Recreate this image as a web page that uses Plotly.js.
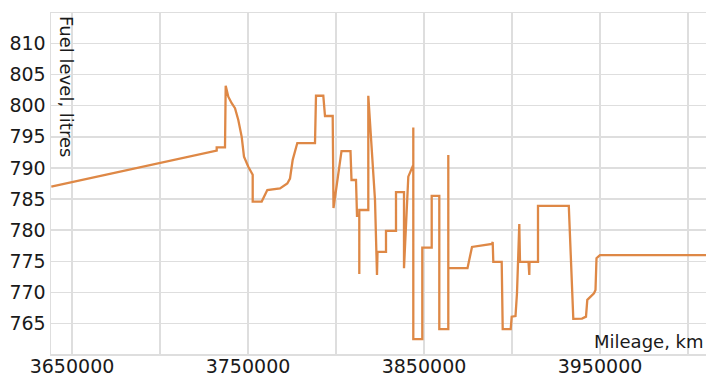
<!DOCTYPE html>
<html>
<head>
<meta charset="utf-8">
<script src="https://cdn.plot.ly/plotly-3.0.1.min.js"></script>
<style>html,body{margin:0;padding:0;background:#fff;}#chart{width:706px;height:376px;}</style>
</head>
<body>
<div id="chart"></div>
<script>
// Mileage (km) of each traced vertex
const mileage = [
  3638240, 3700000, 3732216, 3732216, 3736932, 3737330,
  3738807, 3740739, 3742614, 3744489, 3746421, 3747727, 3750170, 3752670, 3752670,
  3757784, 3760966, 3768182, 3772330, 3773864, 3775398, 3778011, 3788068, 3788636,
  3792784, 3793750, 3798125, 3798580, 3803125, 3808239, 3808807, 3811364, 3811932,
  3813239, 3813239, 3813239, 3818352, 3818352, 3822159, 3823295, 3823580, 3828409,
  3828409, 3834091, 3834091, 3838636, 3838636, 3841080, 3843920, 3843920, 3843920,
  3849034, 3849034, 3854375, 3854375, 3858693, 3858693, 3863807, 3863807, 3863807,
  3874716, 3877273, 3888636, 3889034, 3889375, 3894148, 3894716, 3899261, 3899830,
  3901989, 3902841, 3904148, 3904545, 3909375, 3909830, 3909943, 3914773, 3914773,
  3932273, 3934830, 3939773, 3942045, 3942784, 3944886, 3946591, 3947443, 3948011,
  3950000, 4015000
];
// Fuel level (litres) at each vertex
const fuelLevel = [
  787.0, 790.8, 792.8, 793.3, 793.3, 803.2,
  801.45, 800.4, 799.6, 797.7, 795.0, 791.8, 790.2, 788.9, 784.6,
  784.6, 786.45, 786.7, 787.5, 788.3, 791.3, 794.0, 794.0, 801.6,
  801.6, 798.35, 798.35, 783.56, 792.7, 792.7, 788.06, 788.06, 782.3,
  782.3, 772.95, 783.24, 783.24, 801.6, 784.85, 772.8, 776.5, 776.5,
  779.9, 779.9, 786.1, 786.1, 773.9, 788.6, 790.5, 796.5, 762.5,
  762.5, 777.2, 777.2, 785.5, 785.5, 764.1, 764.1, 792.1, 773.9,
  773.9, 777.3, 777.8, 778.1, 774.9, 774.9, 764.1, 764.1, 766.1,
  766.2, 769.9, 781.0, 774.9, 774.9, 772.8, 774.9, 774.9, 783.9,
  783.9, 765.75, 765.8, 766.1, 768.8, 769.3, 769.85, 770.4, 775.5,
  776.0, 776.0
];
const xTickVals = [3650000, 3700000, 3750000, 3800000, 3850000, 3900000, 3950000, 4000000];
const xTickText = ['3650000', '', '3750000', '', '3850000', '', '3950000', ''];
const yTickVals = [765, 770, 775, 780, 785, 790, 795, 800, 805, 810];
const yTickText = ['765', '770', '775', '780', '785', '790', '795', '800', '805', '810'];

const gridCol = '#dedede';
const font = 'DejaVu Sans, sans-serif';

Plotly.newPlot('chart', [{
  x: mileage, y: fuelLevel, type: 'scatter', mode: 'lines',
  line: {color: '#de8846', width: 2.3}, hoverinfo: 'none'
}], {
  width: 706, height: 376,
  margin: {l: 51, r: 0, t: 13, b: 22},
  paper_bgcolor: '#fff', plot_bgcolor: '#fff',
  showlegend: false,
  xaxis: {
    range: [3638068, 4010227],
    tickmode: 'array', tickvals: xTickVals, ticktext: xTickText,
    showgrid: true, gridcolor: gridCol, gridwidth: 1.5,
    showline: true, linecolor: gridCol, linewidth: 1.5, mirror: true,
    zeroline: false, ticks: '', ticklabelstandoff: -5,
    tickfont: {family: font, size: 19, color: '#1a1a1a'}
  },
  yaxis: {
    range: [760.1, 814.9],
    tickmode: 'array', tickvals: yTickVals, ticktext: yTickText,
    showgrid: true, gridcolor: gridCol, gridwidth: 1.5,
    showline: true, linecolor: gridCol, linewidth: 1.5, mirror: true,
    zeroline: false, ticks: '',
    tickfont: {family: font, size: 19, color: '#1a1a1a'}
  },
  annotations: [
    {text: 'Fuel level, litres', xref: 'paper', yref: 'paper', x: 0, y: 1,
     xanchor: 'left', yanchor: 'top', xshift: 3, yshift: -1, textangle: 90, showarrow: false,
     font: {family: font, size: 18, color: '#1a1a1a'}},
    {text: 'Mileage, km', xref: 'paper', yref: 'paper', x: 1, y: 0,
     xanchor: 'right', yanchor: 'bottom', xshift: 0, yshift: 0, showarrow: false,
     font: {family: font, size: 18, color: '#1a1a1a'}}
  ]
}, {staticPlot: true});
</script>
</body>
</html>
